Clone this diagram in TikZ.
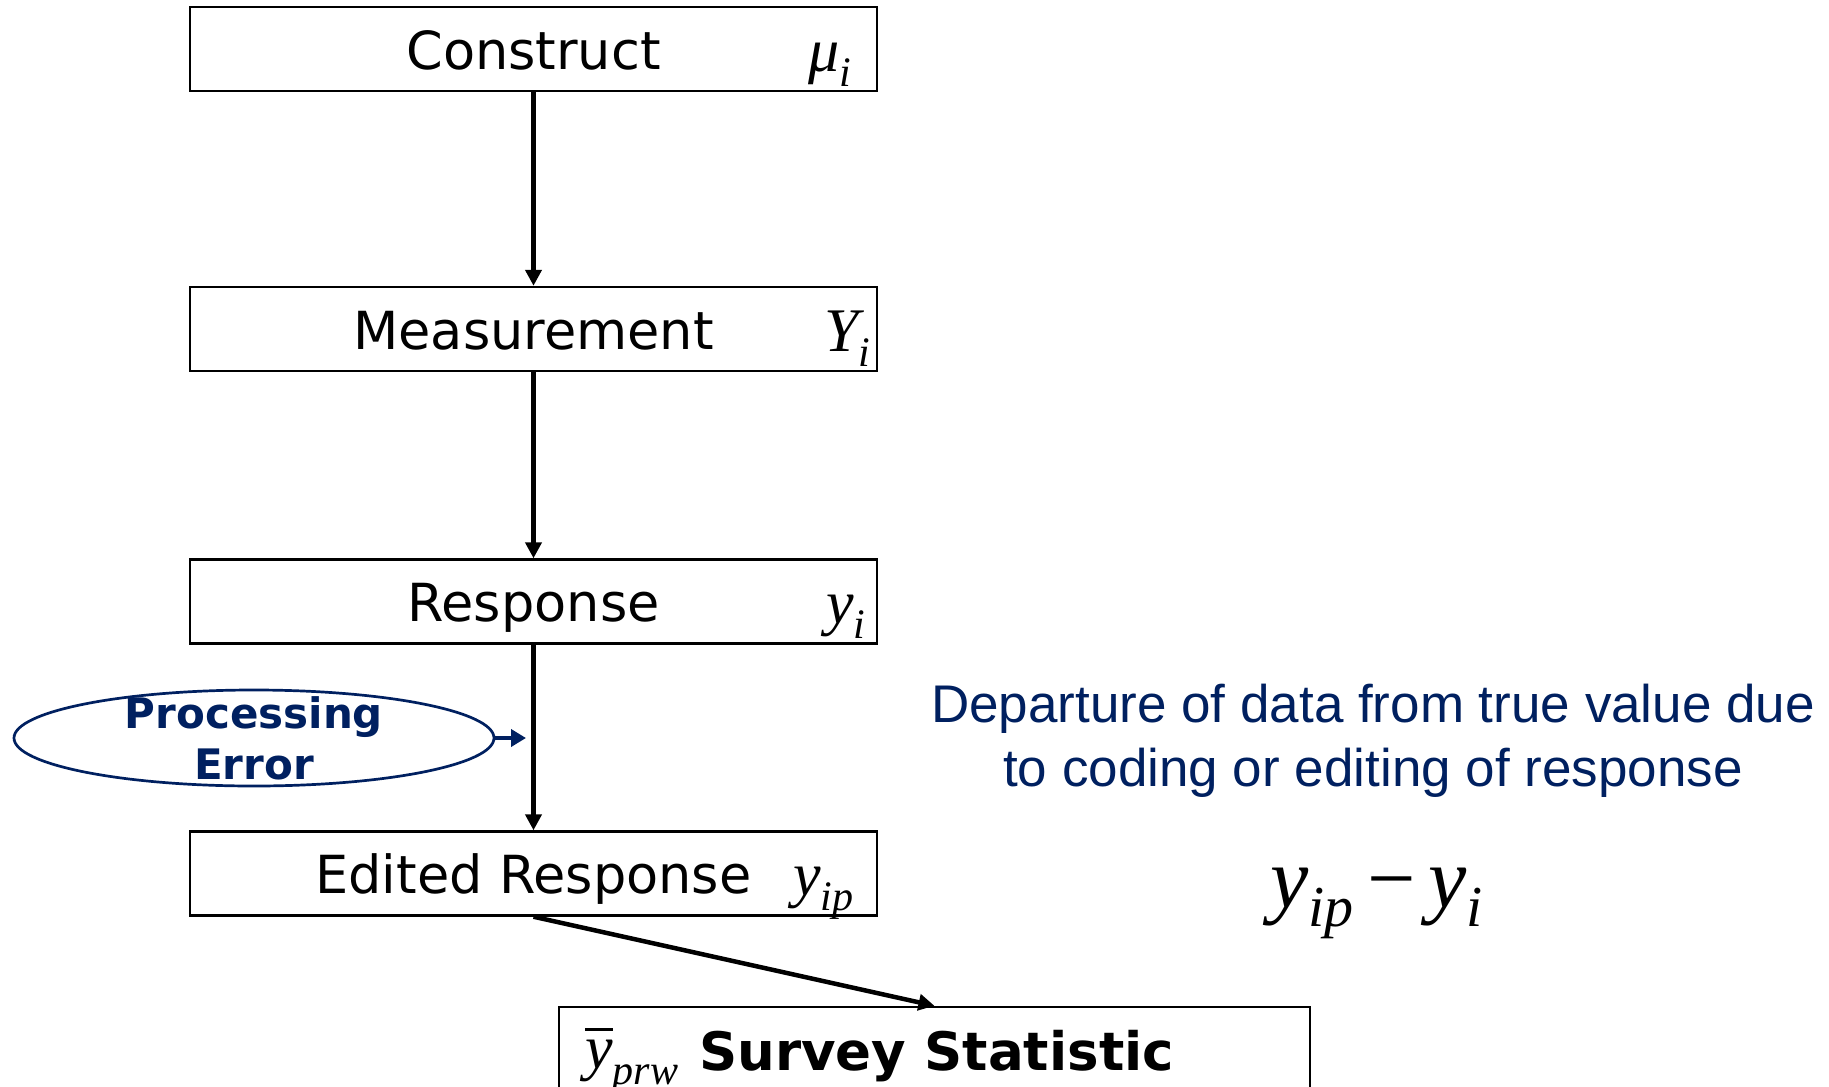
\documentclass[tikz,border=0pt]{standalone}
\usepackage{fontspec}
\usetikzlibrary{arrows.meta,shapes.geometric}
\setmainfont{DejaVu Sans}
\newfontfamily\arialfont{Liberation Sans}
\newfontfamily\timesfont{Liberation Serif}
\definecolor{navy}{RGB}{0,32,96}

% italic symbol with a lowered subscript: size, subscript size, drop, base, subscript
\newcommand\msym[5]{{\timesfont\itshape\fontsize{#1}{#1}\selectfont #4\raisebox{-#3pt}{\fontsize{#2}{#2}\selectfont #5}}}
% y with a bar over it
\newcommand\ybar{\setbox0\hbox{y}\vbox{\hrule height 2.5pt width \wd0\kern 9pt\box0}}

\tikzset{
  stage/.style={draw, line width=2.4pt, minimum width=687pt, minimum height=84pt,
    inner sep=0pt, text height=40pt, text depth=0pt, font=\fontsize{52.5}{62}\selectfont},
  flow/.style={-{Triangle[length=16pt,width=16pt]}, line width=4.5pt},
  sym/.style={anchor=base west, inner sep=0pt},
}

\begin{document}
\begin{tikzpicture}[x=1pt,y=-1pt]
  \useasboundingbox (0,0) rectangle (1829,1087);

  % stages of the measurement chain
  \node[stage] (con) at (533.5,49)    {Construct};
  \node[stage] (mea) at (533.5,329)   {Measurement};
  \node[stage] (res) at (533.5,601.5) {Response};
  \node[stage] (edi) at (533.5,873.5) {Edited Response};
  \node[draw, line width=2.4pt, minimum width=751pt, minimum height=120pt, inner sep=0pt]
    (sur) at (934.5,1067) {};

  % symbols of each stage
  \node[sym] (mu)  at (808,71)  {\msym{62}{42}{15}{μ}{i}};
  \node[sym] (Yi)  at (824,351) {\msym{62}{42}{15}{Y}{i}};
  \node[sym] (yi)  at (826,623) {\msym{62}{42}{15}{y}{i}};
  \node[sym] (yip) at (793,895) {\msym{62}{42}{15}{y}{ip}};
  \node[sym] (ybr) at (585,1068) {\msym{62}{42}{16}{\ybar}{prw}};
  \node[sym, font=\fontsize{53}{62}\selectfont\bfseries] (stat) at (699,1070) {Survey Statistic};

  % flow between stages
  \draw[flow] (con.south) -- (mea.north);
  \draw[flow] (mea.south) -- (res.north);
  \draw[flow] (res.south) -- (edi.north);
  \draw[flow] (edi.south) -- (sur.north);

  % error source
  \node[ellipse, draw=navy, line width=2.7pt, minimum width=480pt, minimum height=96pt,
    inner xsep=0pt, inner ysep=-20pt, text=navy, align=center,
    font=\fontsize{42}{51}\selectfont\bfseries] (pe) at (254,738) {Processing\\Error};
  \coordinate (hit) at (526,738);
  \draw[navy, line width=4.5pt, -{Triangle[length=15pt,width=17pt]}] (pe.east) -- (hit);

  % explanation
  \node[text=navy, align=center, font=\fontsize{53}{64}\selectfont\arialfont] (desc)
    at (1373,741) {Departure of data from true value due\\to coding or editing of response};
  \node[sym] (diff) at (1270,907)
    {\msym{86}{58}{19}{y}{ip}\hspace{14pt}{\timesfont\fontsize{86}{86}\selectfont −}\hspace{12pt}\msym{86}{58}{19}{y}{i}};
\end{tikzpicture}
\end{document}
